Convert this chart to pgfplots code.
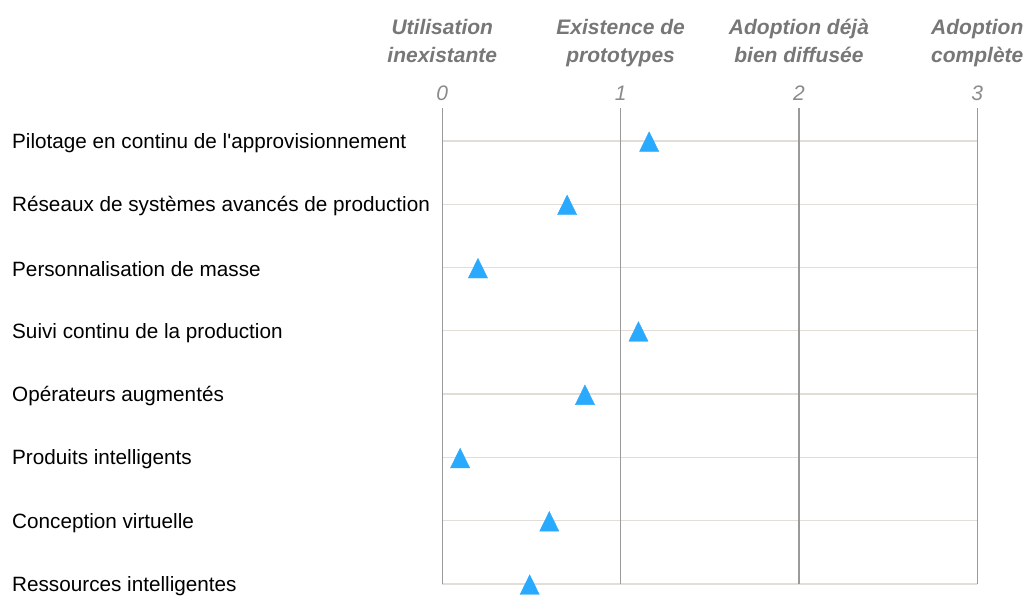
\documentclass[border=0pt]{standalone}
\usepackage{pgfplots}
\pgfplotsset{compat=1.18}
\usepackage{fontspec}
\setmainfont{Liberation Sans}
\definecolor{tri}{HTML}{29AAFF}
\definecolor{vgrid}{HTML}{9A9A9A}
\definecolor{hgrid}{HTML}{E3DDD8}
\definecolor{headgray}{HTML}{777777}
\definecolor{numgray}{HTML}{8A8A8A}

\begin{document}
\begin{tikzpicture}
\path[use as bounding box] (-442.3pt,-11pt) rectangle (583.7pt,584pt);
\begin{axis}[
    width=535pt, height=476pt, scale only axis,
    xmin=0, xmax=3, ymin=-0.521, ymax=7, y dir=reverse,
    axis line style={draw=none},
    major tick length=0pt,
    xtick={0,1,2,3}, xticklabels={},
    ytick={0,...,7},
    yticklabels={Pilotage en continu de l\textquotesingle approvisionnement,
        Réseaux de systèmes avancés de production,
        Personnalisation de masse,
        Suivi continu de la production,
        Opérateurs augmentés,
        Produits intelligents,
        Conception virtuelle,
        Ressources intelligentes},
    yticklabel style={anchor=west, inner sep=0pt, xshift=-430.3pt, yshift=-2pt,
        font=\fontsize{20.7}{24}\selectfont},
    ymajorgrids=true,
    grid style={hgrid, line width=1.3pt},
    clip=false,
]
% vertical level lines
\pgfplotsinvokeforeach{0,1,2,3}{
  \draw[vgrid, line width=1.4pt] (axis cs:#1,-0.521) -- (axis cs:#1,7);
}
% level numbers and headers
\pgfplotsinvokeforeach{0,1,2,3}{
  \node[anchor=base, inner sep=0pt, numgray, font=\fontsize{21}{25}\selectfont\itshape]
    at (axis cs:#1,-0.632) {#1};
}
\begin{scope}[every node/.style={anchor=base, inner sep=0pt, headgray,
    font=\fontsize{21}{25}\selectfont\bfseries\itshape}]
\node at (axis cs:0,-1.675) {Utilisation};
\node at (axis cs:0,-1.24) {inexistante};
\node at (axis cs:1,-1.675) {Existence de};
\node at (axis cs:1,-1.24) {prototypes};
\node at (axis cs:2,-1.675) {Adoption déjà};
\node at (axis cs:2,-1.24) {bien diffusée};
\node at (axis cs:3,-1.675) {Adoption};
\node at (axis cs:3,-1.24) {complète};
\end{scope}
\addplot[only marks, mark=triangle*, mark size=11.1pt,
    mark options={draw=tri, fill=tri, yscale=1.18, yshift=-3.3pt}]
  coordinates {
    (1.16,0) (0.70,1) (0.20,2) (1.10,3) (0.80,4) (0.10,5) (0.60,6) (0.49,7)
  };
\end{axis}
\end{tikzpicture}
\end{document}
